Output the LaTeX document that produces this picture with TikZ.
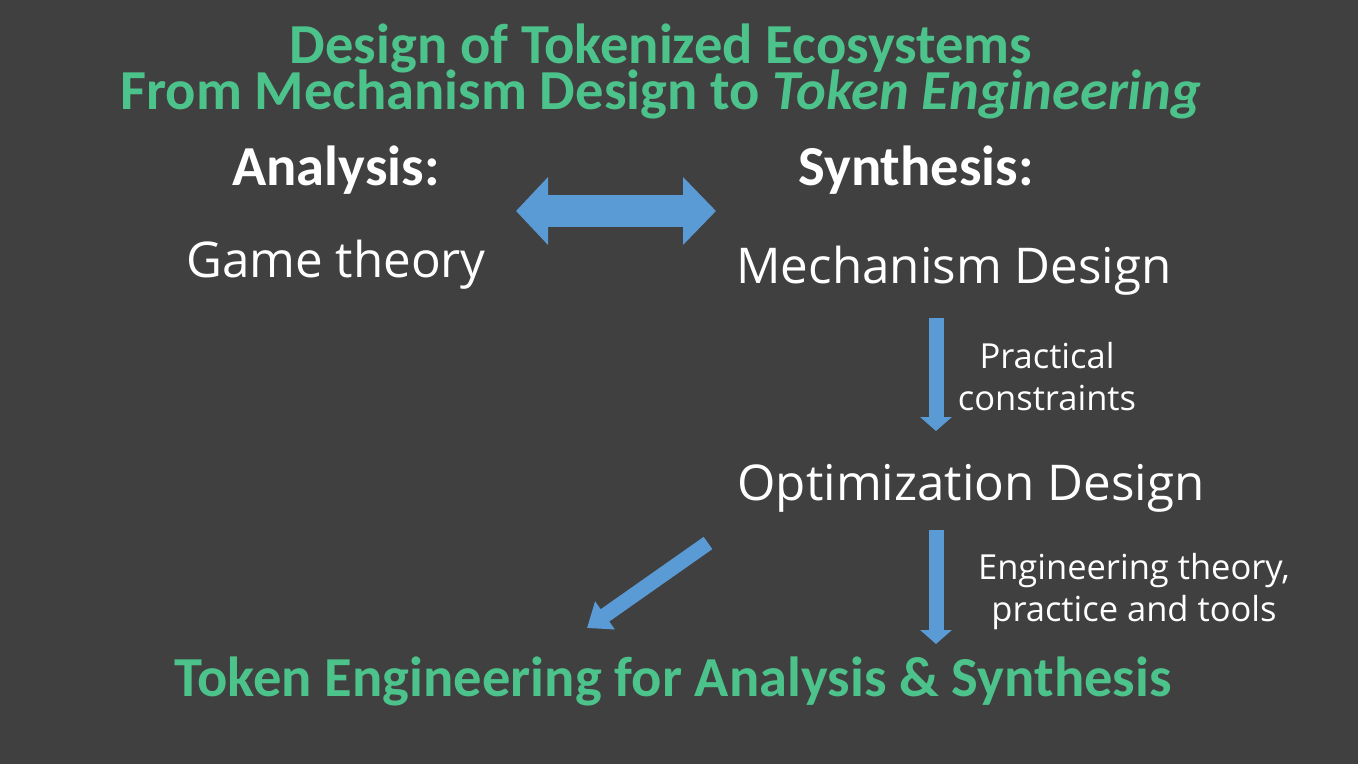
\documentclass[tikz,border=0pt]{standalone}
\usepackage{fontspec}
\setmainfont{Open Sans}
\newfontfamily\titlefont{Carlito}
\usetikzlibrary{arrows.meta}
\definecolor{bgc}{HTML}{404040}
\definecolor{tgreen}{HTML}{4DC38C}
\definecolor{ablue}{HTML}{5B9BD5}
\tikzset{
  greentitle/.style={text=tgreen,font=\titlefont\bfseries\fontsize{56.5}{56.5}\selectfont,anchor=base,inner sep=0pt},
  headlabel/.style={text=white,font=\titlefont\bfseries\fontsize{56.5}{56.5}\selectfont,anchor=base,inner sep=0pt},
  bigtext/.style={text=white,font=\fontsize{49.3}{49.3}\selectfont,anchor=base,inner sep=0pt},
  smalltext/.style={text=white,font=\fontsize{34.5}{42}\selectfont,anchor=base,inner sep=0pt,align=center},
  blockarrow/.style={draw=ablue,line width=15pt,-{Triangle[width=31pt,length=14pt]}},
}
\begin{document}
\begin{tikzpicture}[x=1pt,y=-1pt]
\fill[bgc] (0,0) rectangle (1358,764);
\useasboundingbox (0,0) rectangle (1358,764);
\node[greentitle] (t1) at (661,63) {Design of Tokenized Ecosystems};
\node[greentitle] (t2) at (661,109) {From Mechanism Design to \textit{Token Engineering}};
\node[headlabel] (ana) at (336,185) {Analysis:};
\node[headlabel] (syn) at (916,185) {Synthesis:};
\node[bigtext] (game) at (336,277) {Game theory};
\node[bigtext] (mech) at (954,283) {Mechanism Design};
\node[smalltext] (prac) at (1047,410) {Practical\\constraints};
\node[bigtext] (opt) at (971,500) {Optimization Design};
\node[smalltext] (eng) at (1134,621) {Engineering theory,\\practice and tools};
\node[greentitle] (te) at (673,696) {Token Engineering for Analysis \& Synthesis};
\coordinate (dl) at (516,211);
\coordinate (dr) at (716,211);
\coordinate (a1s) at (936,318);
\coordinate (a1e) at (936,431);
\coordinate (a2s) at (936,530);
\coordinate (a2e) at (936,644);
\coordinate (a3s) at (708,543);
\coordinate (a3e) at (587,628);
\draw[draw=ablue,line width=32pt,{Triangle[width=66pt,length=32pt]}-{Triangle[width=66pt,length=33pt]}] (dl) -- (dr);
\draw[blockarrow] (a1s) -- (a1e);
\draw[blockarrow] (a2s) -- (a2e);
\draw[blockarrow,-{Triangle[width=33pt,length=22pt]}] (a3s) -- (a3e);
\end{tikzpicture}
\end{document}
